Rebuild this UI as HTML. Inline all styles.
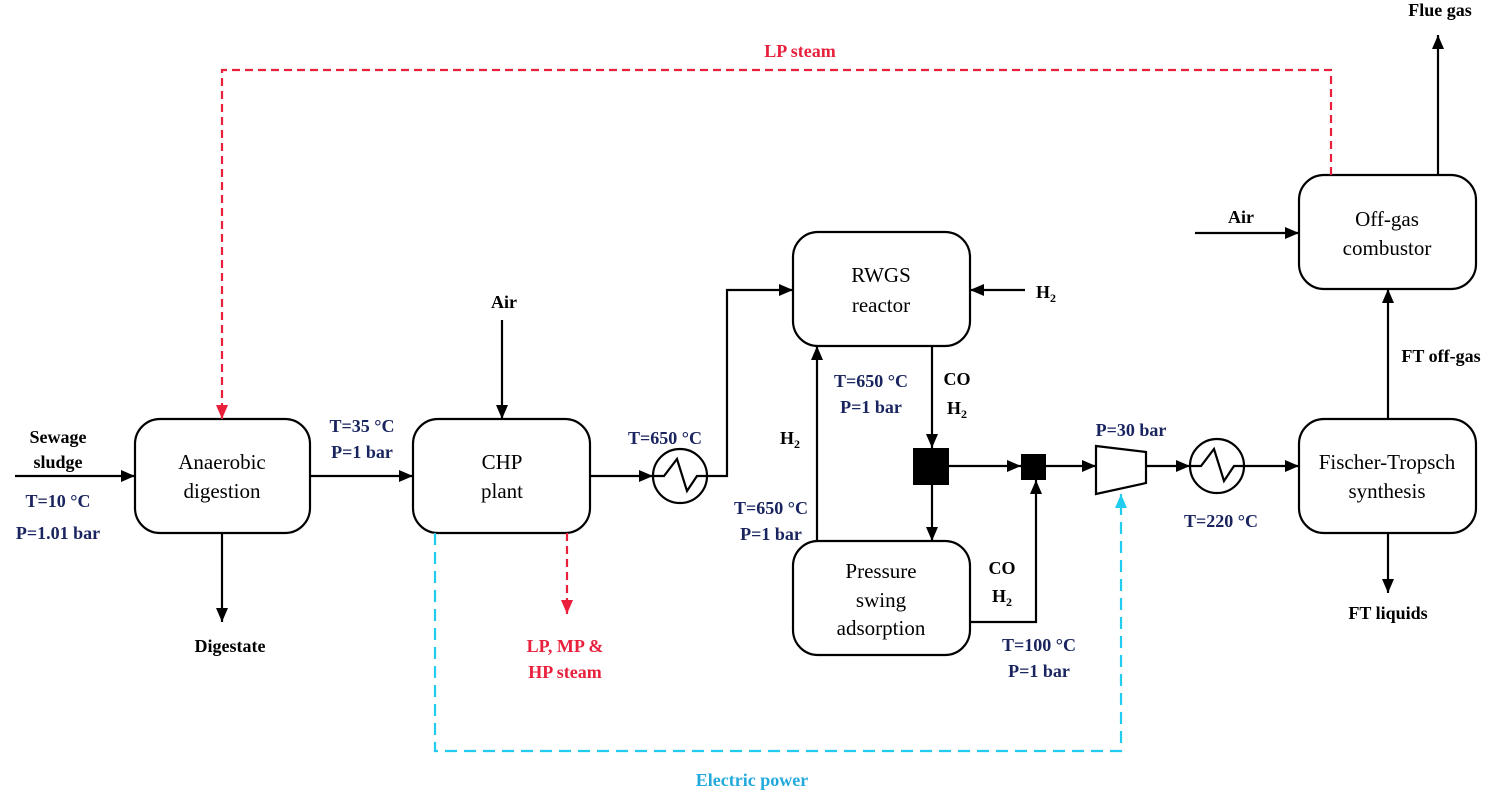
<!DOCTYPE html>
<html><head><meta charset="utf-8"><style>
body{margin:0;background:#fff}
svg{display:block}
.b{font-family:"Liberation Serif",serif;font-weight:bold;font-size:18px}
.n{fill:#1a2560}
.r{fill:#e8203c}
.c{fill:#22aadd}
.t{font-family:"Liberation Serif",serif;font-size:21px;text-anchor:middle}
</style></head><body>
<svg width="1500" height="795" viewBox="0 0 1500 795">
<defs>
<marker id="a" viewBox="0 0 14 12" refX="14" refY="6" markerWidth="14" markerHeight="12" markerUnits="userSpaceOnUse" orient="auto"><path d="M0,0L14,6L0,12z" fill="#000"/></marker>
<marker id="ar" viewBox="0 0 14 12" refX="14" refY="6" markerWidth="14" markerHeight="12" markerUnits="userSpaceOnUse" orient="auto"><path d="M0,0L14,6L0,12z" fill="#e8203c"/></marker>
<marker id="ac" viewBox="0 0 14 12" refX="14" refY="6" markerWidth="14" markerHeight="12" markerUnits="userSpaceOnUse" orient="auto"><path d="M0,0L14,6L0,12z" fill="#22ccee"/></marker>
</defs>
<g fill="none" stroke="#000" stroke-width="2.2">
<rect x="135" y="419" width="175" height="114" rx="25"/>
<rect x="413" y="419" width="177" height="114" rx="25"/>
<rect x="793" y="232" width="177" height="114" rx="25"/>
<rect x="793" y="541" width="177" height="114" rx="25"/>
<rect x="1299" y="175" width="177" height="114" rx="25"/>
<rect x="1299" y="419" width="177" height="114" rx="25"/>
<circle cx="680" cy="476" r="27"/>
<path d="M653,476 L664,476 L677,459 L687,491 L697,476 L707,476"/>
<circle cx="1217" cy="466" r="27"/>
<path d="M1190,466 L1201,466 L1214,449 L1224,481 L1234,466 L1244,466"/>
<path d="M1096,446 L1146,452 L1146,483 L1096,494 Z"/>
</g>
<rect x="913" y="448" width="36" height="37" fill="#000"/>
<rect x="1021" y="454" width="25" height="26" fill="#000"/>
<g fill="none" stroke="#000" stroke-width="2.2" marker-end="url(#a)">
<path d="M15,476H135"/>
<path d="M310,476H413"/>
<path d="M222,533V622"/>
<path d="M502,320V419"/>
<path d="M590,476H653"/>
<path d="M707,476H727V290H793"/>
<path d="M1025,290H970"/>
<path d="M932,346V448"/>
<path d="M949,466H1021"/>
<path d="M932,485V541"/>
<path d="M817,541V346"/>
<path d="M970,622H1036V480"/>
<path d="M1046,466H1096"/>
<path d="M1146,466H1190"/>
<path d="M1244,466H1299"/>
<path d="M1388,419V289"/>
<path d="M1195,233H1299"/>
<path d="M1438,175V35"/>
<path d="M1388,533V593"/>
</g>
<path d="M1331,175V70H222V419" fill="none" stroke="#e8203c" stroke-width="2.2" stroke-dasharray="8,5" marker-end="url(#ar)"/>
<path d="M567,533V614" fill="none" stroke="#e8203c" stroke-width="2.2" stroke-dasharray="8,5" marker-end="url(#ar)"/>
<path d="M435,533V751H1121V494" fill="none" stroke="#22ccee" stroke-width="2.2" stroke-dasharray="12,7" marker-end="url(#ac)"/>
<g class="t">
<text x="222" y="469">Anaerobic</text><text x="222" y="498">digestion</text>
<text x="502" y="469">CHP</text><text x="502" y="498">plant</text>
<text x="881" y="282">RWGS</text><text x="881" y="312">reactor</text>
<text x="881" y="578">Pressure</text><text x="881" y="607">swing</text><text x="881" y="635">adsorption</text>
<text x="1387" y="226">Off-gas</text><text x="1387" y="255">combustor</text>
<text x="1387" y="469">Fischer-Tropsch</text><text x="1387" y="498">synthesis</text>
</g>
<g class="b" text-anchor="middle">
<text x="58" y="443">Sewage</text><text x="58" y="468">sludge</text>
<text x="230" y="652">Digestate</text>
<text x="504" y="308">Air</text>
<text x="1241" y="223">Air</text>
<text x="1046" y="298">H<tspan font-size="12" dy="4">2</tspan></text>
<text x="957" y="385">CO</text>
<text x="957" y="414">H<tspan font-size="12" dy="4">2</tspan></text>
<text x="790" y="444">H<tspan font-size="12" dy="4">2</tspan></text>
<text x="1002" y="574">CO</text>
<text x="1002" y="602">H<tspan font-size="12" dy="4">2</tspan></text>
<text x="1440" y="16">Flue gas</text>
<text x="1441" y="362">FT off-gas</text>
<text x="1388" y="619">FT liquids</text>
<text class="r" x="800" y="57">LP steam</text>
<text class="r" x="565" y="652">LP, MP &amp;</text><text class="r" x="565" y="678">HP steam</text>
<text class="c" x="752" y="786">Electric power</text>
<text class="n" x="58" y="507">T=10 °C</text><text class="n" x="58" y="539">P=1.01 bar</text>
<text class="n" x="362" y="432">T=35 °C</text><text class="n" x="362" y="458">P=1 bar</text>
<text class="n" x="665" y="444">T=650 °C</text>
<text class="n" x="871" y="387">T=650 °C</text><text class="n" x="871" y="413">P=1 bar</text>
<text class="n" x="771" y="514">T=650 °C</text><text class="n" x="771" y="540">P=1 bar</text>
<text class="n" x="1039" y="651">T=100 °C</text><text class="n" x="1039" y="677">P=1 bar</text>
<text class="n" x="1131" y="436">P=30 bar</text>
<text class="n" x="1221" y="527">T=220 °C</text>
</g>
</svg>
</body></html>
